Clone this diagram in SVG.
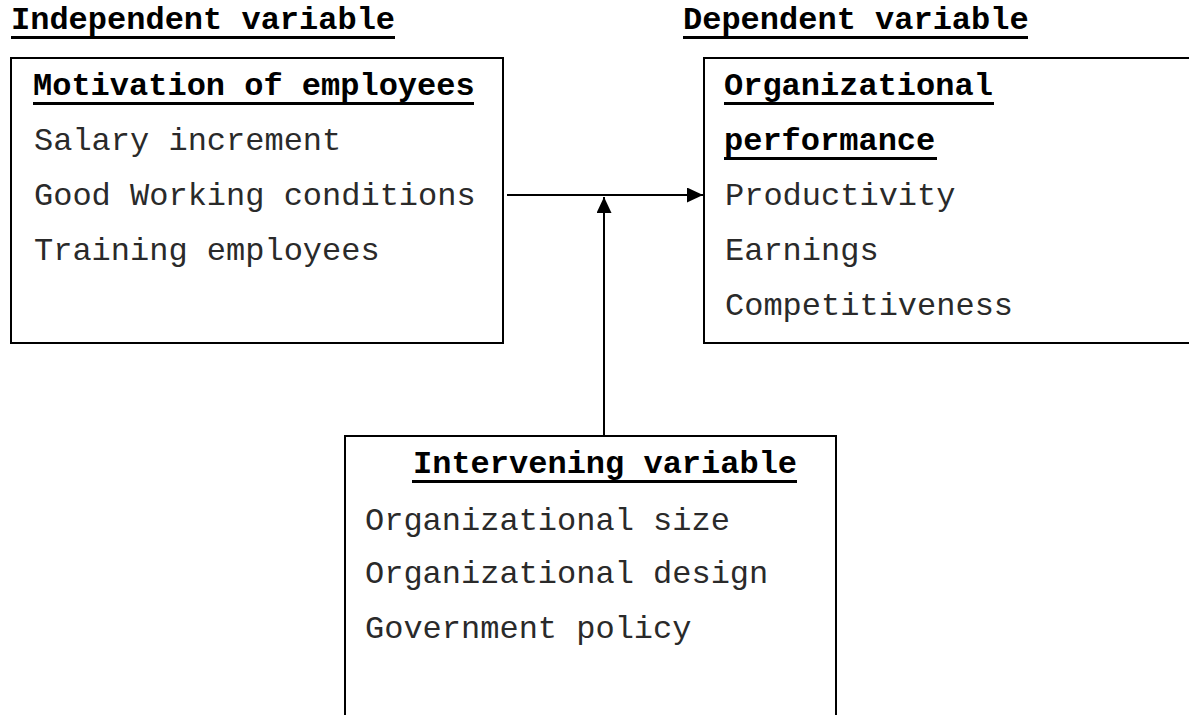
<svg xmlns="http://www.w3.org/2000/svg" width="1189" height="715" viewBox="0 0 1189 715">
  <style>
    .bg { fill: #ffffff; }
    .box { fill: #ffffff; stroke: #000000; stroke-width: 2; }
    .head { font-family: "Liberation Mono", "Courier New", monospace; font-size: 32px; font-weight: bold; fill: #000000; }
    .item { font-family: "Liberation Mono", "Courier New", monospace; font-size: 32px; fill: #2a2a2a; }
    .ul { stroke: #000000; stroke-width: 3; }
    .conn { stroke: #000000; stroke-width: 2; fill: none; }
  </style>
  <defs>
    <marker id="arrow" viewBox="0 0 16 15" refX="16" refY="7.5" markerWidth="16" markerHeight="15" markerUnits="userSpaceOnUse" orient="auto">
      <path d="M0,0 L16,7.5 L0,15 z" fill="#000000"/>
    </marker>
  </defs>

  <rect class="bg" x="0" y="0" width="1189" height="715"/>

  <!-- column headings -->
  <g id="heading-independent">
    <text class="head" x="11" y="29">Independent variable</text>
    <line class="ul" x1="11" y1="37.5" x2="395" y2="37.5"/>
  </g>
  <g id="heading-dependent">
    <text class="head" x="683" y="29">Dependent variable</text>
    <line class="ul" x1="683" y1="37.5" x2="1028" y2="37.5"/>
  </g>

  <!-- independent variable box -->
  <g id="node-motivation">
    <rect class="box" x="11" y="58" width="492" height="285"/>
    <text class="head" x="33" y="95">Motivation of employees</text>
    <line class="ul" x1="33" y1="103.5" x2="474" y2="103.5"/>
    <text class="item" x="34" y="150">Salary increment</text>
    <text class="item" x="34" y="205">Good Working conditions</text>
    <text class="item" x="34" y="260">Training employees</text>
  </g>

  <!-- dependent variable box (runs past the right edge) -->
  <g id="node-performance">
    <rect class="box" x="704" y="58" width="520" height="285"/>
    <text class="head" x="724" y="95">Organizational</text>
    <line class="ul" x1="724" y1="103.5" x2="994" y2="103.5"/>
    <text class="head" x="724" y="150">performance</text>
    <line class="ul" x1="724" y1="158.5" x2="937" y2="158.5"/>
    <text class="item" x="725" y="205">Productivity</text>
    <text class="item" x="725" y="260">Earnings</text>
    <text class="item" x="725" y="315">Competitiveness</text>
  </g>

  <!-- intervening variable box (runs past the bottom edge) -->
  <g id="node-intervening">
    <rect class="box" x="345" y="436" width="491" height="320"/>
    <text class="head" x="413" y="473">Intervening variable</text>
    <line class="ul" x1="412" y1="481.5" x2="797" y2="481.5"/>
    <text class="item" x="365" y="530">Organizational size</text>
    <text class="item" x="365" y="583">Organizational design</text>
    <text class="item" x="365" y="638">Government policy</text>
  </g>

  <!-- connectors -->
  <g id="connectors">
    <line class="conn" x1="507" y1="195" x2="703" y2="195" marker-end="url(#arrow)"/>
    <line class="conn" x1="604" y1="436" x2="604" y2="197" marker-end="url(#arrow)"/>
  </g>
</svg>
